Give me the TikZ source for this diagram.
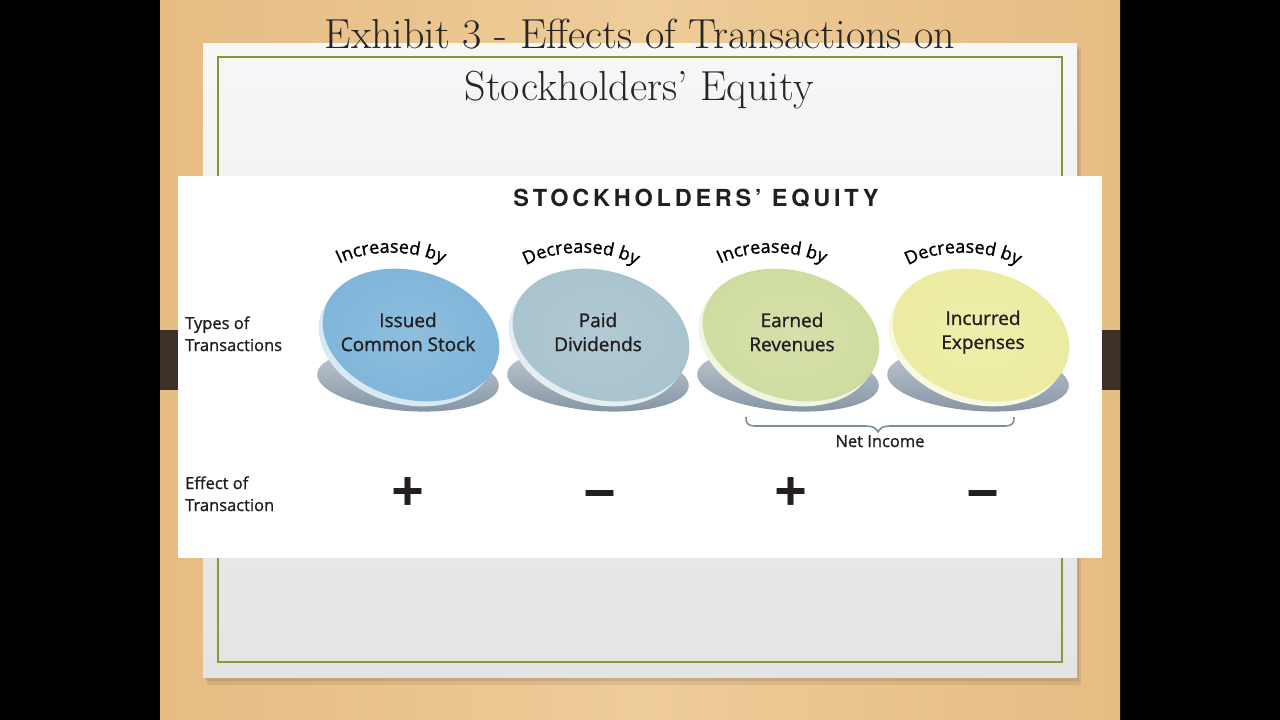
\documentclass[tikz,border=0pt]{standalone}
\usepackage{fontspec}
\usetikzlibrary{decorations.text}
\newfontfamily\labfont{Open Sans}[FakeBold=1.2]
\newfontfamily\headfont{TeX Gyre Heros}[LetterSpace=16]
\newfontfamily\signfont{TeX Gyre Heros}
\newcommand{\arcfont}{\labfont\fontsize{18}{18}\selectfont}
\definecolor{woodA}{HTML}{E6BC84}
\definecolor{woodB}{HTML}{EECC98}
\definecolor{plank}{HTML}{3D3028}
\definecolor{paperT}{HTML}{F7F7F7}
\definecolor{paperB}{HTML}{E4E4E4}
\definecolor{grn}{HTML}{7F9B36}
\definecolor{txt}{HTML}{231F20}
\definecolor{ttxt}{HTML}{262626}
\definecolor{cblue}{HTML}{7EB5D9}
\definecolor{cgray}{HTML}{A7C3CD}
\definecolor{cgreen}{HTML}{CFDC9F}
\definecolor{cyellow}{HTML}{EBECA0}
\definecolor{shtop}{HTML}{C3CBD3}
\definecolor{shbot}{HTML}{8394A4}
\definecolor{bracec}{HTML}{7D8E9E}
\tikzset{
  titletext/.style={anchor=base, inner sep=0pt, text=ttxt, font=\fontsize{42}{42}\selectfont},
  sidelab/.style={anchor=base west, inner sep=0pt, text=txt, font=\labfont\fontsize{16.5}{16.5}\selectfont},
  disklab/.style={align=center, inner sep=0pt, text=txt, font=\labfont\fontsize{19}{24}\selectfont},
  signlab/.style={inner sep=0pt, text=txt, font=\signfont\bfseries\fontsize{60}{60}\selectfont},
  arctext/.style={decorate, decoration={text along path, text align=center, text={|\arcfont|#1}}}
}
\newcommand{\drawdisk}[2]{%
  \shade[top color=shtop, bottom color=shbot, rotate around={-4:(#1-3,380)}] (#1-3,380) ellipse [x radius=91, y radius=31];
  \fill[#2!30!white, rotate around={-16:(#1-4,340)}] (#1-4,340) ellipse [x radius=90, y radius=64];
  \shade[inner color=#2!88!white, outer color=#2, rotate around={-16:(#1,335)}] (#1,335) ellipse [x radius=90, y radius=64];
}
\begin{document}
\begin{tikzpicture}[x=1pt,y=-1pt]
\useasboundingbox (0,0) rectangle (1280,720);
\fill[black] (0,0) rectangle (1280,720);
% wood
\shade[left color=woodA, right color=woodA, middle color=woodB] (160,0) rectangle (1120,720);
\fill[plank] (160,330) rectangle (1120,390);
% paper with shadow
\fill[black, opacity=0.08] (207,49) rectangle (1081,685);
\fill[black, opacity=0.08] (205,46) rectangle (1079,681);
\shade[top color=paperT, bottom color=paperB] (203,43) rectangle (1077,677);
\draw[grn, line width=2] (218,57) rectangle (1062,662);
% title
\node[titletext] (t1) at (640,48) {Exhibit 3 - Effects of Transactions on};
\node[titletext] (t2) at (639,100) {Stockholders’ Equity};
% white exhibit box
\fill[white] (178,176) rectangle (1102,558);
\node[inner sep=0pt, text=txt, font=\headfont\bfseries\fontsize{23.5}{23.5}\selectfont] (head) at (696,198) {STOCKHOLDERS’ EQUITY};
% side labels
\node[sidelab] (s1) at (185,329) {Types of};
\node[sidelab] (s2) at (185,351) {Transactions};
\node[sidelab] (s3) at (185,489) {Effect of};
\node[sidelab] (s4) at (185,511) {Transaction};
% disks
\drawdisk{411}{cblue}
\drawdisk{601}{cgray}
\drawdisk{791}{cgreen}
\drawdisk{981}{cyellow}
\node[disklab] (d1) at (408,332) {Issued\\Common Stock};
\node[disklab] (d2) at (598,332) {Paid\\Dividends};
\node[disklab] (d3) at (792,332) {Earned\\Revenues};
\node[disklab] (d4) at (983,332) {Incurred\\Expenses};
% arc texts
\path[arctext={Increased by}] (329,270) .. controls (359,247) and (423,247) .. (453,270);
\path[arctext={Decreased by}] (519,270) .. controls (549,247) and (613,247) .. (643,270);
\path[arctext={Increased by}] (710,270) .. controls (740,247) and (804,247) .. (834,270);
\path[arctext={Decreased by}] (901,270) .. controls (931,247) and (995,247) .. (1025,270);
% brace
\draw[bracec, line width=1.6] (746,417) .. controls (746,424) and (748,426) .. (756,426) -- (866,426) .. controls (873,426) and (876,428) .. (878,432) .. controls (880,428) and (883,426) .. (890,426) -- (1004,426) .. controls (1012,426) and (1014,424) .. (1014,417);
\node[anchor=base, inner sep=0pt, text=txt, font=\labfont\fontsize{16.5}{16.5}\selectfont] (ni) at (880,447) {Net Income};
% signs
\node[signlab] (p1) at (408,492) {+};
\node[signlab] (m1) at (600,499) {−};
\node[signlab] (p2) at (791,492) {+};
\node[signlab] (m2) at (983,499) {−};
\end{tikzpicture}
\end{document}
